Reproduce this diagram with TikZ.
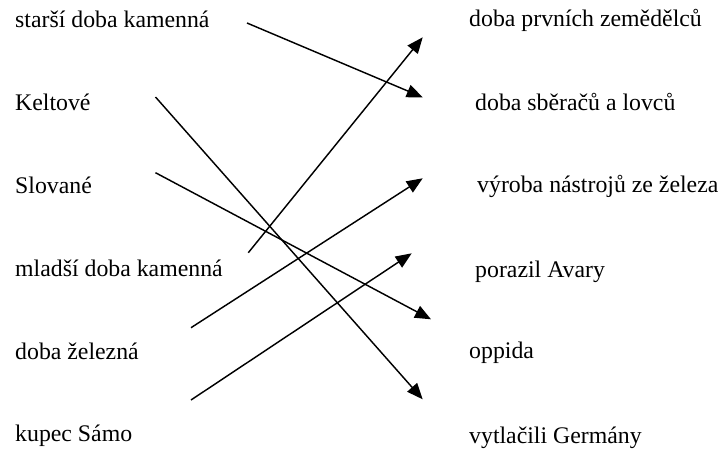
\documentclass[tikz,border=0pt]{standalone}
\usepackage{fontspec}
\setmainfont{Liberation Serif}
\usetikzlibrary{arrows.meta}
\begin{document}
\begin{tikzpicture}[x=1pt,y=-1pt,
  lbl/.style={anchor=base west,inner sep=0pt,font=\fontsize{23.8}{28}\selectfont},
  link/.style={line width=1.45pt,-{Triangle[length=16pt,width=13pt]}}]
\useasboundingbox[fill=white] (0,0) rectangle (727,448);
% left labels
\node[lbl] (l1) at (15,27) {starší doba kamenná};
\node[lbl] (l2) at (15,110) {Keltové};
\node[lbl] (l3) at (15,193) {Slované};
\node[lbl] (l4) at (15,276) {mladší doba kamenná};
\node[lbl] (l5) at (15,359) {doba železná};
\node[lbl] (l6) at (15,441) {kupec Sámo};
% right labels
\node[lbl] (r1) at (469,26) {doba prvních zemědělců};
\node[lbl] (r2) at (475,110) {doba sběračů a lovců};
\node[lbl] (r3) at (477,192) {výroba nástrojů ze železa};
\node[lbl] (r4) at (475,277) {porazil Avary};
\node[lbl] (r5) at (469,358) {oppida};
\node[lbl] (r6) at (469,443) {vytlačili Germány};
% connector ends
\coordinate (s1) at (247,23);
\coordinate (s2) at (155.5,97);
\coordinate (s3) at (155.5,172.7);
\coordinate (s4) at (248.3,252.7);
\coordinate (s5) at (191,327.7);
\coordinate (s6) at (191,400);
\coordinate (t1) at (422.7,97.3);
\coordinate (t2) at (422.7,399.3);
\coordinate (t3) at (431,319.3);
\coordinate (t4) at (422.7,37.3);
\coordinate (t5) at (422.7,178.3);
\coordinate (t6) at (411.7,253.3);
\draw[link] (s1) -- (t1);
\draw[link] (s2) -- (t2);
\draw[link] (s3) -- (t3);
\draw[link] (s4) -- (t4);
\draw[link] (s5) -- (t5);
\draw[link] (s6) -- (t6);
\end{tikzpicture}
\end{document}
